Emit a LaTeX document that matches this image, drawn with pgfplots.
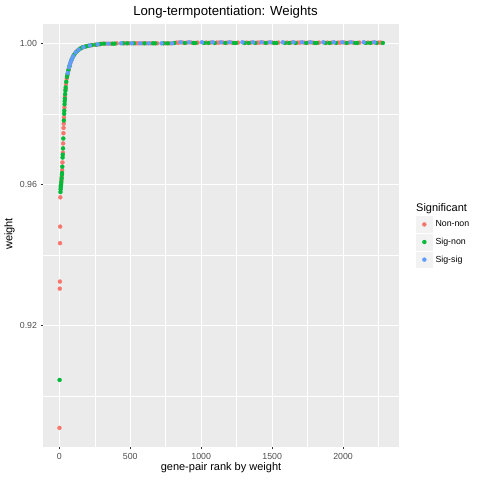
\documentclass[border=0pt]{standalone}
\usepackage{pgfplots}
\pgfplotsset{compat=1.18}
\usepackage{fontspec}
\setmainfont{Liberation Sans}
\definecolor{panel}{HTML}{EBEBEB}
\definecolor{keybg}{HTML}{F2F2F2}
\definecolor{cR}{HTML}{F8766D}
\definecolor{cG}{HTML}{00BA38}
\definecolor{cB}{HTML}{619CFF}
\definecolor{tickc}{HTML}{4D4D4D}
\definecolor{tickl}{HTML}{333333}
\begin{document}
\begin{tikzpicture}
\path[use as bounding box] (0bp,0bp) rectangle (480bp,480bp);
\begin{axis}[
  at={(43.3bp,33.3bp)}, anchor=south west,
  width=355.7bp, height=422.7bp, scale only axis,
  xmin=-113, xmax=2394, ymin=0.88556, ymax=1.00548,
  axis background/.style={fill=panel},
  axis line style={draw=none},
  xtick={0,500,1000,1500,2000},
  ytick={0.92,0.96,1.00},
  minor xtick={250,750,1250,1750,2250},
  minor ytick={0.90,0.94,0.98},
  grid=both,
  major grid style={white, line width=1.07bp},
  minor grid style={white, line width=0.53bp},
  tick align=outside, xtick pos=bottom, ytick pos=left,
  major tick length=2.75bp, minor tick length=0bp,
  major tick style={tickl, line width=1.07bp},
  /pgf/number format/assume math mode=true,
  ticklabel style={font=\fontsize{8.8bp}{10bp}\selectfont, text=tickc},
  xticklabel style={/pgf/number format/set thousands separator={}, /pgf/number format/fixed},
  yticklabel style={/pgf/number format/fixed, /pgf/number format/fixed zerofill, /pgf/number format/precision=2},
  scaled ticks=false,
  legend style={at={(1.0478,0.5452)}, anchor=north west, draw=none, fill=none,
    inner sep=0pt, row sep=1.6bp, column sep=0pt,
    font=\fontsize{8.8bp}{10bp}\selectfont,
    nodes={inner xsep=3bp, inner ysep=0pt}},
  legend cell align=left,
  legend image code/.code={\fill[keybg] (0bp,-7.85bp) rectangle (16bp,7.85bp);
    \draw[only marks] plot coordinates {(8bp,0bp)};},
  every axis plot/.append style={only marks, mark=*, mark size=2bp, line width=0.3bp},
]
\addplot[color=cR, mark options={fill=cR, draw=cR}] coordinates {
(1,0.8909) (3,0.9304) (4,0.9324) (5,0.9433) (6,0.9480) (7,0.9563)
(13,0.9602) (15,0.9612) (17,0.9622) (20,0.9640) (22,0.9662) (25,0.9690)
(27,0.9716) (29,0.9745) (30,0.9760) (31,0.9772) (33,0.9790) (36,0.9818)
(40,0.9850) (44,0.9870) (47,0.9884) (52,0.9900) (56,0.9909) (62,0.9920)
(66,0.9927) (70,0.9934) (76,0.9942) (82,0.9949) (90,0.9957) (100,0.9965)
(110,0.9971) (125,0.9978) (140,0.9983) (155,0.9987) (175,0.9990) (195,0.9992)
(220,0.9994) (250,0.9996) (280,0.9997)
(300,0.9999) (330,0.9999) (360,0.9999) (405,1.0000) (465,1.0000) (495,1.0000) (540,1.0000) (555,1.0000)
(585,1.0000) (615,1.0000) (645,1.0000) (690,1.0000) (750,1.0000) (780,1.0000) (825,1.0002) (840,1.0002)
(870,1.0002) (900,1.0002) (930,1.0002) (975,1.0002) (1035,1.0002) (1065,1.0002) (1110,1.0002) (1125,1.0002)
(1155,1.0002) (1185,1.0002) (1215,1.0002) (1260,1.0002) (1320,1.0002) (1350,1.0002) (1395,1.0002) (1410,1.0002)
(1440,1.0002) (1470,1.0002) (1500,1.0002) (1545,1.0002) (1605,1.0002) (1635,1.0002) (1680,1.0002) (1695,1.0002)
(1725,1.0002) (1755,1.0002) (1785,1.0002) (1830,1.0002) (1890,1.0002) (1920,1.0002) (1965,1.0002) (1980,1.0002)
(2010,1.0002) (2040,1.0002) (2070,1.0002) (2115,1.0002) (2175,1.0002) (2205,1.0002) (2250,1.0002) (2265,1.0002)
};
\addlegendentry{Non-non}
\addplot[color=cG, mark options={fill=cG, draw=cG}] coordinates {
(2,0.9045) (8,0.9578) (9,0.9586) (10,0.9592) (11,0.9596) (12,0.9599)
(14,0.9607) (16,0.9617) (18,0.9627) (19,0.9632) (21,0.9650) (23,0.9676)
(24,0.9684) (26,0.9702) (28,0.9730) (32,0.9781) (34,0.9800) (35,0.9809)
(37,0.9827) (38,0.9836) (39,0.9843) (41,0.9856) (43,0.9866) (45,0.9875)
(49,0.9891) (54,0.9905) (58,0.9913) (64,0.9924) (72,0.9936) (86,0.9953)
(95,0.9961) (105,0.9968) (118,0.9975) (132,0.9980) (148,0.9985) (165,0.9989)
(185,0.9991) (205,0.9993) (230,0.9995) (260,0.9996) (290,0.9998)
(315,0.9999) (375,0.9999) (390,0.9999) (450,1.0000) (480,1.0000) (525,1.0000)
(600,1.0000) (660,1.0000) (675,1.0000) (735,1.0000) (765,1.0000) (810,1.0001)
(885,1.0001) (945,1.0001) (960,1.0001) (1020,1.0001) (1050,1.0001) (1095,1.0001)
(1170,1.0001) (1230,1.0001) (1245,1.0001) (1305,1.0001) (1335,1.0001) (1380,1.0001)
(1455,1.0001) (1515,1.0001) (1530,1.0001) (1590,1.0001) (1620,1.0001) (1665,1.0001)
(1740,1.0001) (1800,1.0001) (1815,1.0001) (1875,1.0001) (1905,1.0001) (1950,1.0001)
(2025,1.0001) (2085,1.0001) (2100,1.0001) (2160,1.0001) (2190,1.0001) (2235,1.0001)
(2280,1.0001)
};
\addlegendentry{Sig-non}
\addplot[color=cB, mark options={fill=cB, draw=cB}] coordinates {
(60,0.9916) (69,0.9932) (75,0.9941) (80,0.9947) (88,0.9955) (98,0.9963)
(115,0.9974) (137,0.9982) (170,0.9989) (215,0.9994) (270,0.9997)
(345,0.9999) (435,1.0000) (510,1.0000) (570,1.0000)
(630,1.0000) (720,1.0000) (795,1.0000) (855,1.0003)
(915,1.0003) (1005,1.0003) (1080,1.0003) (1140,1.0003)
(1200,1.0003) (1290,1.0003) (1365,1.0003) (1425,1.0003)
(1485,1.0003) (1575,1.0003) (1650,1.0003) (1710,1.0003)
(1770,1.0003) (1860,1.0003) (1935,1.0003) (1995,1.0003)
(2055,1.0003) (2145,1.0003) (2220,1.0003)
};
\addlegendentry{Sig-sig}
\end{axis}
\node[anchor=base, font=\fontsize{13.2bp}{15bp}\selectfont] at (225.5bp,464bp) {Long-termpotentiation: Weights};
\node[anchor=base, font=\fontsize{11bp}{13bp}\selectfont] at (221bp,9.3bp) {gene-pair rank by weight};
\node[anchor=base, rotate=90, font=\fontsize{11bp}{13bp}\selectfont] at (12.4bp,246bp) {weight};
\node[anchor=base west, inner sep=0pt, font=\fontsize{11bp}{13bp}\selectfont] at (416bp,268.3bp) {Significant};
\end{tikzpicture}
\end{document}
